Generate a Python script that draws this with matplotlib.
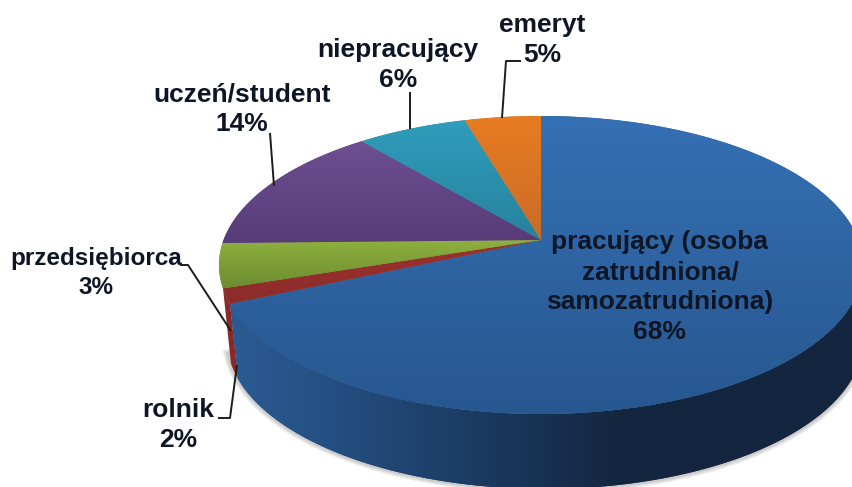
#!/usr/bin/env python3

## Import Modules ##
import matplotlib
matplotlib.use('Agg')
import matplotlib.pyplot as plt
from matplotlib.colors import LinearSegmentedColormap
from matplotlib.patches import Polygon
import numpy as np

## Data ##
# clockwise from 12 o'clock. shares are read off the drawn wedges,
# pct_labels are the numbers printed on the chart (they don't add to 100)
categories = ['pracujący (osoba\nzatrudniona/\nsamozatrudniona)', 'rolnik',
              'przedsiębiorca', 'uczeń/student', 'niepracujący', 'emeryt']
shares = [68.2, 1.6, 4.8, 14.3, 6.5, 4.5]
pct_labels = ['68%', '2%', '3%', '14%', '6%', '5%']

top_colors = [('#3570b4', '#27578f'), ('#9c312e', '#8c2c2a'), ('#8fb13f', '#6c8c30'),
              ('#6e4f92', '#573c78'), ('#2f9dbc', '#27829c'), ('#e87c22', '#c96c26')]

## Pie geometry (pixels) ##
cx, cy, rx, ry = 541, 265, 322, 149
bx, by, brx = 545, 340, 318
tilt = 25 / 149    # apex sits above the middle of the ellipse
W, H = 853, 487

def project(t):
    # circle -> ellipse, perspective moves the apex away from the centre
    u, v = np.sin(t), np.cos(t)
    d = 1 + tilt * v
    return u * np.sqrt(1 - tilt ** 2) / d, (v + tilt) / d

def top_arc(t0, t1, n=200):
    u, v = project(np.linspace(t0, t1, n))
    return np.column_stack([cx + rx * u, cy - ry * v])

def low_arc(t0, t1, n=200):
    u, v = project(np.linspace(t0, t1, n))
    return np.column_stack([bx + brx * u, by - ry * v])

def gradient_fill(ax, pts, stops, vertical=True, z=2):
    # stops = [(pos in pixels, colour), ...]
    lo, hi = stops[0][0], stops[-1][0]
    cmap = LinearSegmentedColormap.from_list(
        'g', [((p - lo) / (hi - lo), c) for p, c in stops])
    ramp = np.linspace(0, 1, 256)
    ramp = ramp[:, None] if vertical else ramp[None, :]
    extent = (0, W, hi, lo) if vertical else (lo, hi, H, 0)
    im = ax.imshow(ramp, cmap=cmap, extent=extent, aspect='auto', zorder=z,
                   interpolation='bilinear')
    edge = Polygon(pts, closed=True, fc=stops[len(stops) // 2][1], ec='none', zorder=z - 0.5)
    ax.add_patch(edge)
    im.set_clip_path(Polygon(pts, closed=True, transform=ax.transData))

## Figure ##
plt.rcParams['font.family'] = ['Liberation Sans', 'DejaVu Sans']
fig = plt.figure(figsize=(W / 100, H / 100), dpi=100)
ax = fig.add_axes([0, 0, 1, 1])

# cumulative angles of the slices
edges = 2 * np.pi * np.cumsum([0] + shares) / sum(shares)
apex = np.array([cx, cy - ry * tilt])

# soft shadow under the rim
sweep = np.linspace(np.pi * 0.97, 0, 300)
rim = np.column_stack([bx + brx * np.cos(sweep), by + ry * np.sin(sweep)])
for lw in [7, 5, 3]:
    ax.plot(rim[:, 0], rim[:, 1], color='black', alpha=0.07, lw=lw, zorder=0.5)

# side wall: only the front slices show
right_end = 2 * np.pi * 0.25
blue_side = np.vstack([top_arc(right_end, edges[1]), low_arc(edges[1], right_end)])
gradient_fill(ax, blue_side, [(225, '#2c5c94'), (330, '#244f82'), (480, '#1b3a60'),
                              (620, '#14263f'), (853, '#15263f')], vertical=False, z=1.5)
red_side = np.vstack([top_arc(edges[1], edges[2], 40), low_arc(edges[2], edges[1], 40)])
ax.add_patch(Polygon(red_side, closed=True, fc='#8a2a28', ec='none', zorder=1.2))

# top face, each slice has its own gradient
for i, (c0, c1) in enumerate(top_colors):
    pts = np.vstack([[apex], top_arc(edges[i], edges[i + 1], 300)])
    gradient_fill(ax, pts, [(pts[:, 1].min(), c0), (pts[:, 1].max(), c1)], z=3 + i * 0.01)

## Labels ##
txt = dict(fontweight='bold', ha='center', va='center', color='#0e1626',
           linespacing=1.3, zorder=6)
ax.text(660, 287, categories[0] + '\n' + pct_labels[0], fontsize=19, **txt)
ax.text(178, 425, categories[1] + '\n' + pct_labels[1], fontsize=19, **txt)
ax.text(96, 273, categories[2] + '\n' + pct_labels[2], fontsize=17.5, **txt)
ax.text(242, 109, categories[3] + '\n' + pct_labels[3], fontsize=19, **txt)
ax.text(398, 65, categories[4] + '\n' + pct_labels[4], fontsize=19, **txt)
ax.text(542, 40, categories[5] + '\n' + pct_labels[5], fontsize=19, **txt)

## Leader lines ##
leaders = [[(218, 418), (230, 418), (237, 365)],
           [(180, 265), (188, 265), (231, 331)],
           [(270, 133), (274, 186)],
           [(410, 92), (410, 129)],
           [(521, 61), (506, 61), (502, 118)]]
for line in leaders:
    xs, ys = zip(*line)
    ax.plot(xs, ys, color='#1c1c1c', lw=1.4, zorder=5, solid_capstyle='butt')

ax.set_xlim(0, W)
ax.set_ylim(H, 0)
ax.axis('off')

fig.savefig('out.png', dpi=100, facecolor='white')
